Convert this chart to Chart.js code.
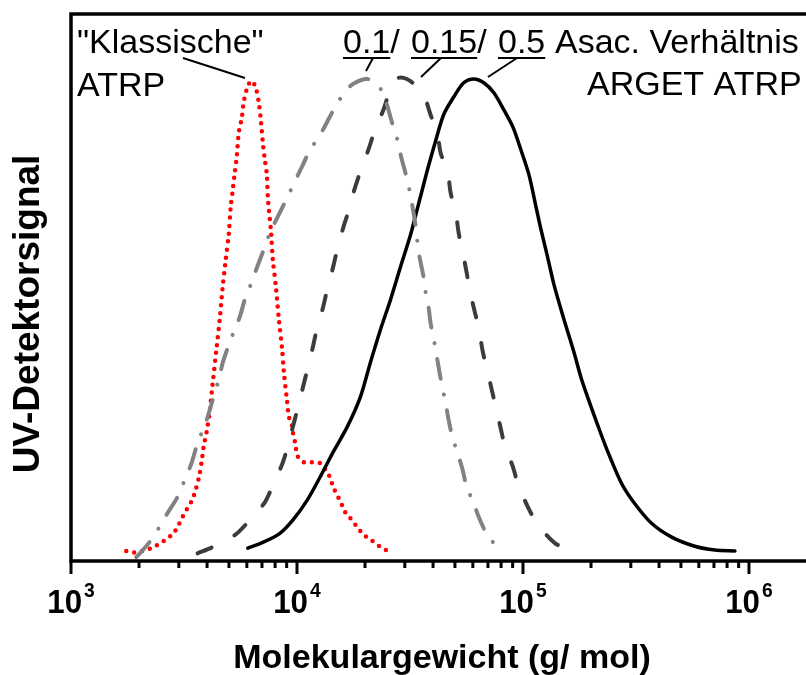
<!DOCTYPE html>
<html>
<head>
<meta charset="utf-8">
<script src="https://cdn.jsdelivr.net/npm/chart.js@4.4.1/dist/chart.umd.min.js"></script>
<style>
    html, body { margin: 0; padding: 0; background: #fff; overflow: hidden; }
    #wrap { position: relative; width: 822px; height: 675px; }
</style>
</head>
<body>
<div id="wrap"><canvas id="gpcChart" width="822" height="675"></canvas></div>
<script>
    // GPC-Kurven, Molekulargewicht (g/mol) gegen normiertes UV-Signal
    const klassMw = [1756, 1905, 2068, 2268, 2436, 2644, 2840, 2989, 3114, 3244,
        3415, 3522, 3669, 3783, 3861, 3981, 4105, 4234, 4411, 4548,
        4690, 4836, 4986, 5090, 5195, 5302, 5412, 5524, 5695, 5813,
        6056, 6310, 6573, 6778, 6918, 7062, 7207, 7356, 7432, 7662,
        7821, 8066, 8318, 8577, 8755, 9028, 9214, 9502, 9600, 9797,
        10100, 10740, 11660, 12660, 13450, 14020, 14450, 15060, 15690, 16350,
        17200, 18480, 19650, 21540, 23140, 25120];
    const klassSignal = [0.013, 0.010, 0.013, 0.019, 0.027, 0.038, 0.050, 0.067, 0.084, 0.099,
        0.117, 0.134, 0.164, 0.199, 0.231, 0.262, 0.304, 0.363, 0.440, 0.497,
        0.566, 0.623, 0.675, 0.734, 0.769, 0.805, 0.839, 0.889, 0.920, 0.954,
        0.987, 0.998, 0.983, 0.952, 0.916, 0.868, 0.832, 0.801, 0.753, 0.686,
        0.623, 0.566, 0.497, 0.440, 0.386, 0.329, 0.294, 0.277, 0.260, 0.241,
        0.210, 0.199, 0.199, 0.197, 0.182, 0.166, 0.147, 0.130, 0.113, 0.094,
        0.082, 0.063, 0.048, 0.034, 0.023, 0.013];

    const arget01Mw = [1945, 2222, 2461, 2671, 2959, 3211, 3415, 3631, 3941, 4234,
        4501, 4690, 4935, 5248, 5580, 5873, 6310, 6641, 7062, 7586,
        8936, 10520, 11420, 12660, 13880, 15210, 17200, 20060, 21760, 23860,
        26710, 27830, 28990, 30200, 31460, 33450, 34150, 34850, 36310, 37060,
        38210, 39000, 40210, 41470, 42770, 44110, 45480, 46900, 48860, 51410,
        54120, 56380, 60560, 63740, 68480, 74320, 79030];
    const arget01Signal = [0.000, 0.031, 0.063, 0.092, 0.126, 0.166, 0.197, 0.239, 0.281, 0.329,
        0.371, 0.407, 0.438, 0.472, 0.503, 0.539, 0.577, 0.606, 0.639, 0.679,
        0.748, 0.818, 0.853, 0.885, 0.920, 0.954, 0.987, 1.002, 0.996, 0.975,
        0.901, 0.874, 0.836, 0.805, 0.769, 0.696, 0.658, 0.629, 0.587, 0.556,
        0.524, 0.491, 0.459, 0.423, 0.386, 0.352, 0.323, 0.287, 0.249, 0.218,
        0.182, 0.147, 0.113, 0.084, 0.052, 0.029, 0.010];

    const arget015Mw = [3631, 4234, 5302, 6056, 7207, 7821, 8665, 9120, 10100, 10740,
        11190, 11780, 12270, 13050, 13590, 14450, 15060, 16010, 16850, 17920,
        19050, 20680, 21990, 24110, 25640, 28110, 31140, 35940, 39000, 41900,
        43210, 46420, 47860, 50370, 51940, 54120, 56380, 58130, 61180, 63740,
        66410, 69180, 72810, 75860, 79860, 83180, 90280, 95020, 105200, 115400,
        138800, 166800];
    const arget015Signal = [0.008, 0.021, 0.046, 0.073, 0.115, 0.151, 0.199, 0.235, 0.314, 0.365,
        0.398, 0.442, 0.480, 0.524, 0.560, 0.608, 0.644, 0.690, 0.723, 0.769,
        0.807, 0.853, 0.891, 0.937, 0.973, 1.004, 1.000, 0.973, 0.927, 0.885,
        0.847, 0.807, 0.763, 0.723, 0.679, 0.639, 0.595, 0.560, 0.514, 0.480,
        0.430, 0.396, 0.350, 0.314, 0.268, 0.233, 0.189, 0.153, 0.105, 0.071,
        0.029, 0.015];

    const arget05Mw = [6056, 7062, 8404, 9600, 11080, 12660, 14450, 16680, 19050, 21100,
        23380, 25910, 28700, 31780, 33450, 35940, 38210, 41050, 44560, 49350,
        54680, 60560, 67090, 74320, 82340, 90280, 97970, 106300, 114200, 120200,
        127900, 137300, 152100, 168500, 181000, 200500, 222200, 238700, 272700, 311400,
        370600, 454800, 575400, 706200, 866500];
    const arget05Signal = [0.019, 0.031, 0.050, 0.078, 0.119, 0.168, 0.220, 0.273, 0.335, 0.407,
        0.476, 0.539, 0.608, 0.675, 0.715, 0.772, 0.820, 0.872, 0.927, 0.964,
        0.994, 1.002, 0.994, 0.973, 0.937, 0.901, 0.853, 0.801, 0.734, 0.686,
        0.633, 0.570, 0.497, 0.428, 0.375, 0.314, 0.256, 0.218, 0.155, 0.113,
        0.071, 0.042, 0.023, 0.015, 0.013];

    const tickExponents = [3, 4, 5, 6];
    const minorSteps = [2, 3, 4, 5, 6, 7, 8, 9];

    const xTitle = 'Molekulargewicht (g/ mol)';
    const yTitle = 'UV-Detektorsignal';

    const FONT = '"Liberation Sans", Arial, sans-serif';

    function toPoints(xs, ys) {
        return xs.map(function (x, i) { return { x: x, y: ys[i] }; });
    }

    function curve(label, xs, ys, color, width, dash) {
        return {
            label: label,
            data: toPoints(xs, ys),
            showLine: true,
            borderColor: color,
            borderWidth: width,
            borderDash: dash,
            borderCapStyle: 'round',
            borderJoinStyle: 'round',
            tension: 0.3,
            pointRadius: 0,
            fill: false
        };
    }

    function underlined(ctx, text, x, y) {
        ctx.fillText(text, x, y);
        const w = ctx.measureText(text).width;
        ctx.beginPath();
        ctx.moveTo(x, y + 5);
        ctx.lineTo(x + w, y + 5);
        ctx.stroke();
    }

    function line(ctx, x1, y1, x2, y2) {
        ctx.beginPath();
        ctx.moveTo(x1, y1);
        ctx.lineTo(x2, y2);
        ctx.stroke();
    }

    // schmal gezogener Text (Beschriftung wirkt im Original etwas kondensiert)
    function narrowText(ctx, text, x, y, sx) {
        ctx.save();
        ctx.translate(x, y);
        ctx.scale(sx, 1);
        ctx.fillText(text, 0, 0);
        ctx.restore();
    }

    const decorPlugin = {
        id: 'gpcDecor',
        afterDraw: function (chart) {
            const ctx = chart.ctx;
            const a = chart.chartArea;
            const xs = chart.scales.x;
            ctx.save();

            // Rahmen (oben, links, unten)
            ctx.strokeStyle = '#000';
            ctx.lineWidth = 3.5;
            ctx.lineJoin = 'miter';
            ctx.beginPath();
            ctx.moveTo(a.right + 4, a.top);
            ctx.lineTo(a.left, a.top);
            ctx.lineTo(a.left, a.bottom);
            ctx.lineTo(a.right + 4, a.bottom);
            ctx.stroke();

            // Log-Ticks und Beschriftung 10^n
            ctx.lineWidth = 3;
            ctx.fillStyle = '#000';
            ctx.textBaseline = 'alphabetic';
            ctx.textAlign = 'left';
            const sx = 0.92;
            tickExponents.forEach(function (e) {
                const base = Math.pow(10, e);
                [1].concat(minorSteps).forEach(function (m) {
                    const v = m * base;
                    if (v < xs.min || v > xs.max) return;
                    const px = xs.getPixelForValue(v);
                    line(ctx, px, a.bottom, px, a.bottom + (m === 1 ? 13 : 7));
                });
                const px = xs.getPixelForValue(base);
                ctx.font = 'bold 34px ' + FONT;
                const w1 = ctx.measureText('10').width * sx;
                ctx.font = 'bold 21px ' + FONT;
                const w2 = ctx.measureText(String(e)).width * sx;
                const start = px - (w1 + 2 + w2) / 2;
                ctx.font = 'bold 34px ' + FONT;
                narrowText(ctx, '10', start, 613, sx);
                ctx.font = 'bold 21px ' + FONT;
                narrowText(ctx, String(e), start + w1 + 2, 597, sx);
            });

            // Achsentitel
            ctx.font = 'bold 34px ' + FONT;
            ctx.textAlign = 'center';
            ctx.fillText(xTitle, 442, 668);
            ctx.save();
            ctx.translate(39, 314);
            ctx.rotate(-Math.PI / 2);
            ctx.font = 'bold 37px ' + FONT;
            ctx.fillText(yTitle, 0, 0);
            ctx.restore();

            // Beschriftungen im Diagramm
            ctx.textAlign = 'left';
            ctx.font = '34px ' + FONT;
            ctx.lineWidth = 2;
            ctx.fillText('"Klassische"', 77, 53);
            ctx.fillText('ATRP', 77, 96);
            line(ctx, 183, 58, 245, 78);

            underlined(ctx, '0.1', 343, 53);
            ctx.fillText('/', 343 + ctx.measureText('0.1').width, 53);
            underlined(ctx, '0.15', 411, 53);
            ctx.fillText('/', 411 + ctx.measureText('0.15').width, 53);
            underlined(ctx, '0.5', 498, 53);
            ctx.fillText('Asac. Verhältnis', 555, 53);
            ctx.fillText('ARGET ATRP', 587, 95);
            line(ctx, 373, 58, 366, 71);
            line(ctx, 441, 58, 421, 77);
            line(ctx, 517, 58, 488, 77);

            ctx.restore();
        }
    };

    new Chart(document.getElementById('gpcChart').getContext('2d'), {
        type: 'scatter',
        data: {
            datasets: [
                curve('0.1', arget01Mw, arget01Signal, '#828282', 4, [20, 16, 0.1, 16]),
                curve('0.15', arget015Mw, arget015Signal, '#3c3c3c', 4, [15, 26]),
                curve('0.5', arget05Mw, arget05Signal, '#000000', 3.5, []),
                curve('Klassische ATRP', klassMw, klassSignal, '#ff0000', 4.5, [0, 8])
            ]
        },
        options: {
            responsive: false,
            animation: false,
            devicePixelRatio: 1,
            layout: { padding: { left: 71, top: 14, right: 5, bottom: 114 } },
            plugins: {
                legend: { display: false },
                tooltip: { enabled: false }
            },
            scales: {
                x: { type: 'logarithmic', min: 1000, max: 2000000, display: false },
                y: { type: 'linear', min: -0.008, max: 1.138, display: false }
            }
        },
        plugins: [decorPlugin]
    });
</script>
</body>
</html>
